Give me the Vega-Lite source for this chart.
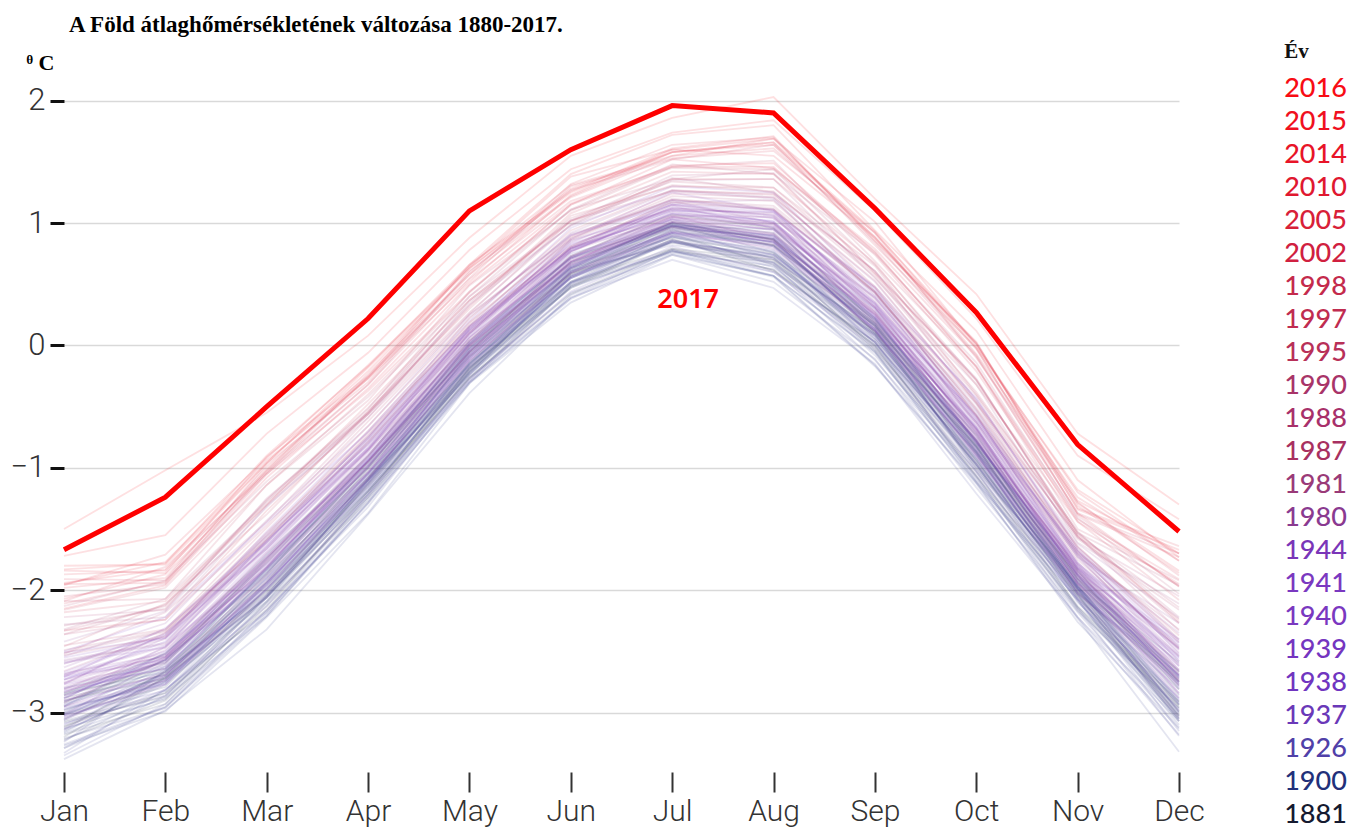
{
"$schema": "https://vega.github.io/schema/vega-lite/v6.json",
"background": "white",
"padding": {"left": 10, "top": 14, "right": 5, "bottom": 2},
"spacing": 79,
"config": {"view": {"stroke": null}},
"datasets": {
"temps": [
{"year":1880,"Jan":-2.86,"Feb":-2.64,"Mar":-1.93,"Apr":-1.01,"May":-0.09,"Jun":0.58,"Jul":0.94,"Aug":0.82,"Sep":0.18,"Oct":-0.87,"Nov":-1.88,"Dec":-2.78},
{"year":1881,"Jan":-2.88,"Feb":-2.69,"Mar":-1.86,"Apr":-0.99,"May":-0.05,"Jun":0.73,"Jul":1.07,"Aug":0.96,"Sep":0.19,"Oct":-0.73,"Nov":-1.91,"Dec":-2.81},
{"year":1882,"Jan":-2.92,"Feb":-2.57,"Mar":-1.77,"Apr":-0.95,"May":-0.01,"Jun":0.67,"Jul":0.97,"Aug":0.82,"Sep":0.16,"Oct":-0.86,"Nov":-1.94,"Dec":-2.74},
{"year":1883,"Jan":-2.90,"Feb":-2.72,"Mar":-1.88,"Apr":-1.08,"May":-0.06,"Jun":0.59,"Jul":0.97,"Aug":0.87,"Sep":0.11,"Oct":-0.82,"Nov":-2.02,"Dec":-2.75},
{"year":1884,"Jan":-3.20,"Feb":-2.71,"Mar":-2.06,"Apr":-1.13,"May":-0.20,"Jun":0.59,"Jul":0.84,"Aug":0.70,"Sep":0.12,"Oct":-1.00,"Nov":-2.00,"Dec":-3.03},
{"year":1885,"Jan":-3.12,"Feb":-2.72,"Mar":-2.02,"Apr":-1.19,"May":-0.27,"Jun":0.48,"Jul":0.87,"Aug":0.61,"Sep":0.03,"Oct":-0.94,"Nov":-2.05,"Dec":-3.05},
{"year":1886,"Jan":-3.22,"Feb":-2.90,"Mar":-2.13,"Apr":-1.24,"May":-0.19,"Jun":0.52,"Jul":0.79,"Aug":0.70,"Sep":-0.01,"Oct":-1.03,"Nov":-2.13,"Dec":-2.91},
{"year":1887,"Jan":-3.11,"Feb":-2.84,"Mar":-2.16,"Apr":-1.20,"May":-0.26,"Jun":0.42,"Jul":0.79,"Aug":0.62,"Sep":0.00,"Oct":-1.07,"Nov":-2.04,"Dec":-3.03},
{"year":1888,"Jan":-3.01,"Feb":-2.79,"Mar":-1.98,"Apr":-1.09,"May":-0.14,"Jun":0.65,"Jul":1.00,"Aug":0.86,"Sep":0.10,"Oct":-0.83,"Nov":-1.99,"Dec":-2.94},
{"year":1889,"Jan":-2.85,"Feb":-2.52,"Mar":-1.71,"Apr":-0.90,"May":0.04,"Jun":0.71,"Jul":1.00,"Aug":0.87,"Sep":0.21,"Oct":-0.81,"Nov":-1.90,"Dec":-2.67},
{"year":1890,"Jan":-3.08,"Feb":-2.87,"Mar":-2.05,"Apr":-1.22,"May":-0.18,"Jun":0.47,"Jul":0.85,"Aug":0.72,"Sep":-0.03,"Oct":-0.97,"Nov":-2.14,"Dec":-2.94},
{"year":1891,"Jan":-3.14,"Feb":-2.66,"Mar":-2.01,"Apr":-1.08,"May":-0.16,"Jun":0.63,"Jul":0.88,"Aug":0.75,"Sep":0.16,"Oct":-0.95,"Nov":-1.96,"Dec":-2.96},
{"year":1892,"Jan":-3.06,"Feb":-2.67,"Mar":-1.96,"Apr":-1.15,"May":-0.23,"Jun":0.52,"Jul":0.91,"Aug":0.66,"Sep":0.08,"Oct":-0.89,"Nov":-2.01,"Dec":-2.99},
{"year":1893,"Jan":-3.18,"Feb":-2.93,"Mar":-2.10,"Apr":-1.27,"May":-0.21,"Jun":0.49,"Jul":0.77,"Aug":0.68,"Sep":-0.04,"Oct":-1.06,"Nov":-2.16,"Dec":-2.96},
{"year":1894,"Jan":-2.98,"Feb":-2.74,"Mar":-2.04,"Apr":-1.11,"May":-0.17,"Jun":0.50,"Jul":0.86,"Aug":0.72,"Sep":0.09,"Oct":-0.97,"Nov":-1.96,"Dec":-2.91},
{"year":1895,"Jan":-3.07,"Feb":-2.84,"Mar":-2.04,"Apr":-1.14,"May":-0.18,"Jun":0.61,"Jul":0.96,"Aug":0.81,"Sep":0.05,"Oct":-0.88,"Nov":-2.03,"Dec":-3.00},
{"year":1896,"Jan":-2.95,"Feb":-2.60,"Mar":-1.74,"Apr":-0.97,"May":0.01,"Jun":0.68,"Jul":0.98,"Aug":0.84,"Sep":0.18,"Oct":-0.83,"Nov":-1.91,"Dec":-2.71},
{"year":1897,"Jan":-2.84,"Feb":-2.67,"Mar":-1.82,"Apr":-1.03,"May":-0.02,"Jun":0.63,"Jul":1.01,"Aug":0.92,"Sep":0.15,"Oct":-0.77,"Nov":-1.98,"Dec":-2.69},
{"year":1898,"Jan":-3.16,"Feb":-2.75,"Mar":-2.09,"Apr":-1.10,"May":-0.22,"Jun":0.56,"Jul":0.86,"Aug":0.68,"Sep":0.09,"Oct":-0.98,"Nov":-2.03,"Dec":-3.07},
{"year":1899,"Jan":-2.94,"Feb":-2.57,"Mar":-1.85,"Apr":-1.05,"May":-0.15,"Jun":0.60,"Jul":0.99,"Aug":0.76,"Sep":0.17,"Oct":-0.79,"Nov":-1.93,"Dec":-2.86},
{"year":1900,"Jan":-2.91,"Feb":-2.65,"Mar":-1.84,"Apr":-1.00,"May":0.02,"Jun":0.72,"Jul":0.98,"Aug":0.95,"Sep":0.22,"Oct":-0.78,"Nov":-1.93,"Dec":-2.59},
{"year":1901,"Jan":-2.80,"Feb":-2.59,"Mar":-1.87,"Apr":-0.96,"May":-0.05,"Jun":0.62,"Jul":0.98,"Aug":0.87,"Sep":0.22,"Oct":-0.82,"Nov":-1.84,"Dec":-2.72},
{"year":1902,"Jan":-3.13,"Feb":-2.89,"Mar":-2.09,"Apr":-1.19,"May":-0.22,"Jun":0.57,"Jul":0.92,"Aug":0.76,"Sep":0.01,"Oct":-0.93,"Nov":-2.07,"Dec":-3.07},
{"year":1903,"Jan":-3.23,"Feb":-2.82,"Mar":-2.06,"Apr":-1.19,"May":-0.22,"Jun":0.47,"Jul":0.78,"Aug":0.57,"Sep":-0.06,"Oct":-1.11,"Nov":-2.14,"Dec":-3.05},
{"year":1904,"Jan":-3.27,"Feb":-2.99,"Mar":-2.22,"Apr":-1.37,"May":-0.31,"Jun":0.35,"Jul":0.74,"Aug":0.57,"Sep":-0.16,"Oct":-1.12,"Nov":-2.26,"Dec":-3.13},
{"year":1905,"Jan":-3.05,"Feb":-2.68,"Mar":-2.00,"Apr":-1.16,"May":-0.15,"Jun":0.57,"Jul":0.89,"Aug":0.74,"Sep":0.10,"Oct":-0.93,"Nov":-1.98,"Dec":-2.99},
{"year":1906,"Jan":-3.00,"Feb":-2.62,"Mar":-1.91,"Apr":-1.10,"May":-0.19,"Jun":0.56,"Jul":0.95,"Aug":0.71,"Sep":0.12,"Oct":-0.84,"Nov":-1.97,"Dec":-2.92},
{"year":1907,"Jan":-3.29,"Feb":-2.95,"Mar":-2.19,"Apr":-1.29,"May":-0.24,"Jun":0.48,"Jul":0.76,"Aug":0.65,"Sep":-0.05,"Oct":-1.08,"Nov":-2.17,"Dec":-2.97},
{"year":1908,"Jan":-3.17,"Feb":-2.88,"Mar":-2.21,"Apr":-1.25,"May":-0.30,"Jun":0.38,"Jul":0.75,"Aug":0.57,"Sep":-0.05,"Oct":-1.12,"Nov":-2.08,"Dec":-3.10},
{"year":1909,"Jan":-3.38,"Feb":-2.98,"Mar":-2.32,"Apr":-1.38,"May":-0.39,"Jun":0.41,"Jul":0.77,"Aug":0.56,"Sep":-0.17,"Oct":-1.13,"Nov":-2.23,"Dec":-3.32},
{"year":1910,"Jan":-3.29,"Feb":-2.86,"Mar":-2.11,"Apr":-1.24,"May":-0.26,"Jun":0.43,"Jul":0.74,"Aug":0.52,"Sep":-0.11,"Oct":-1.16,"Nov":-2.18,"Dec":-3.12},
{"year":1911,"Jan":-3.21,"Feb":-2.96,"Mar":-2.16,"Apr":-1.32,"May":-0.27,"Jun":0.39,"Jul":0.78,"Aug":0.62,"Sep":-0.12,"Oct":-1.07,"Nov":-2.22,"Dec":-3.07},
{"year":1912,"Jan":-3.33,"Feb":-2.81,"Mar":-2.18,"Apr":-1.22,"May":-0.29,"Jun":0.51,"Jul":0.77,"Aug":0.60,"Sep":0.03,"Oct":-1.10,"Nov":-2.08,"Dec":-3.15},
{"year":1913,"Jan":-3.15,"Feb":-2.77,"Mar":-2.05,"Apr":-1.17,"May":-0.24,"Jun":0.51,"Jul":0.85,"Aug":0.64,"Sep":0.00,"Oct":-0.97,"Nov":-2.09,"Dec":-3.02},
{"year":1914,"Jan":-2.98,"Feb":-2.70,"Mar":-1.90,"Apr":-1.05,"May":-0.03,"Jun":0.68,"Jul":0.95,"Aug":0.90,"Sep":0.17,"Oct":-0.83,"Nov":-1.97,"Dec":-2.66},
{"year":1915,"Jan":-2.83,"Feb":-2.63,"Mar":-1.83,"Apr":-0.99,"May":-0.03,"Jun":0.64,"Jul":1.00,"Aug":0.89,"Sep":0.20,"Oct":-0.79,"Nov":-1.87,"Dec":-2.75},
{"year":1916,"Jan":-3.26,"Feb":-2.96,"Mar":-2.21,"Apr":-1.28,"May":-0.31,"Jun":0.49,"Jul":0.85,"Aug":0.66,"Sep":-0.08,"Oct":-1.03,"Nov":-2.15,"Dec":-3.19},
{"year":1917,"Jan":-3.35,"Feb":-2.93,"Mar":-2.17,"Apr":-1.29,"May":-0.30,"Jun":0.39,"Jul":0.70,"Aug":0.47,"Sep":-0.15,"Oct":-1.21,"Nov":-2.22,"Dec":-3.18},
{"year":1918,"Jan":-3.02,"Feb":-2.82,"Mar":-1.99,"Apr":-1.18,"May":-0.14,"Jun":0.51,"Jul":0.89,"Aug":0.77,"Sep":0.02,"Oct":-0.92,"Nov":-2.10,"Dec":-2.88},
{"year":1919,"Jan":-3.24,"Feb":-2.66,"Mar":-2.03,"Apr":-1.10,"May":-0.24,"Jun":0.61,"Jul":0.82,"Aug":0.73,"Sep":0.14,"Oct":-1.02,"Nov":-1.97,"Dec":-3.00},
{"year":1920,"Jan":-3.02,"Feb":-2.70,"Mar":-1.99,"Apr":-1.12,"May":-0.21,"Jun":0.55,"Jul":0.89,"Aug":0.68,"Sep":0.05,"Oct":-0.91,"Nov":-1.99,"Dec":-3.02},
{"year":1921,"Jan":-3.04,"Feb":-2.75,"Mar":-1.96,"Apr":-1.10,"May":-0.07,"Jun":0.64,"Jul":0.91,"Aug":0.85,"Sep":0.13,"Oct":-0.88,"Nov":-2.01,"Dec":-2.72},
{"year":1922,"Jan":-3.01,"Feb":-2.72,"Mar":-2.06,"Apr":-1.13,"May":-0.15,"Jun":0.52,"Jul":0.84,"Aug":0.74,"Sep":0.07,"Oct":-0.99,"Nov":-1.99,"Dec":-2.93},
{"year":1923,"Jan":-3.09,"Feb":-2.86,"Mar":-2.06,"Apr":-1.21,"May":-0.19,"Jun":0.55,"Jul":0.90,"Aug":0.78,"Sep":0.03,"Oct":-0.95,"Nov":-2.04,"Dec":-3.04},
{"year":1924,"Jan":-3.10,"Feb":-2.73,"Mar":-1.94,"Apr":-1.10,"May":-0.13,"Jun":0.55,"Jul":0.85,"Aug":0.67,"Sep":0.03,"Oct":-1.01,"Nov":-2.06,"Dec":-2.93},
{"year":1925,"Jan":-2.96,"Feb":-2.77,"Mar":-1.94,"Apr":-1.13,"May":-0.10,"Jun":0.55,"Jul":0.93,"Aug":0.82,"Sep":0.06,"Oct":-0.87,"Nov":-2.07,"Dec":-2.81},
{"year":1926,"Jan":-2.95,"Feb":-2.51,"Mar":-1.83,"Apr":-0.93,"May":-0.03,"Jun":0.75,"Jul":0.99,"Aug":0.90,"Sep":0.30,"Oct":-0.80,"Nov":-1.84,"Dec":-2.77},
{"year":1927,"Jan":-3.03,"Feb":-2.65,"Mar":-1.94,"Apr":-1.08,"May":-0.16,"Jun":0.59,"Jul":0.92,"Aug":0.74,"Sep":0.09,"Oct":-0.87,"Nov":-1.99,"Dec":-2.90},
{"year":1928,"Jan":-3.00,"Feb":-2.71,"Mar":-1.93,"Apr":-1.07,"May":-0.09,"Jun":0.60,"Jul":0.93,"Aug":0.81,"Sep":0.16,"Oct":-0.86,"Nov":-1.98,"Dec":-2.76},
{"year":1929,"Jan":-3.14,"Feb":-2.81,"Mar":-2.13,"Apr":-1.22,"May":-0.28,"Jun":0.44,"Jul":0.81,"Aug":0.60,"Sep":-0.02,"Oct":-1.04,"Nov":-2.07,"Dec":-3.05},
{"year":1930,"Jan":-2.97,"Feb":-2.76,"Mar":-1.95,"Apr":-1.06,"May":-0.11,"Jun":0.63,"Jul":0.98,"Aug":0.84,"Sep":0.13,"Oct":-0.86,"Nov":-1.96,"Dec":-2.89},
{"year":1931,"Jan":-2.88,"Feb":-2.54,"Mar":-1.74,"Apr":-0.92,"May":0.01,"Jun":0.72,"Jul":1.03,"Aug":0.89,"Sep":0.23,"Oct":-0.78,"Nov":-1.87,"Dec":-2.70},
{"year":1932,"Jan":-2.93,"Feb":-2.69,"Mar":-1.90,"Apr":-1.05,"May":-0.08,"Jun":0.61,"Jul":0.94,"Aug":0.85,"Sep":0.13,"Oct":-0.84,"Nov":-1.99,"Dec":-2.79},
{"year":1933,"Jan":-3.13,"Feb":-2.74,"Mar":-2.04,"Apr":-1.15,"May":-0.17,"Jun":0.57,"Jul":0.86,"Aug":0.71,"Sep":0.08,"Oct":-0.97,"Nov":-2.02,"Dec":-2.98},
{"year":1934,"Jan":-2.88,"Feb":-2.52,"Mar":-1.79,"Apr":-1.00,"May":-0.11,"Jun":0.64,"Jul":1.03,"Aug":0.81,"Sep":0.21,"Oct":-0.74,"Nov":-1.89,"Dec":-2.80},
{"year":1935,"Jan":-3.06,"Feb":-2.73,"Mar":-1.98,"Apr":-1.12,"May":-0.05,"Jun":0.66,"Jul":0.92,"Aug":0.87,"Sep":0.11,"Oct":-0.90,"Nov":-2.03,"Dec":-2.70},
{"year":1936,"Jan":-2.86,"Feb":-2.57,"Mar":-1.86,"Apr":-0.94,"May":-0.07,"Jun":0.65,"Jul":0.97,"Aug":0.88,"Sep":0.23,"Oct":-0.80,"Nov":-1.82,"Dec":-2.70},
{"year":1937,"Jan":-2.82,"Feb":-2.64,"Mar":-1.81,"Apr":-0.94,"May":-0.01,"Jun":0.77,"Jul":1.11,"Aug":1.01,"Sep":0.23,"Oct":-0.68,"Nov":-1.87,"Dec":-2.75},
{"year":1938,"Jan":-2.73,"Feb":-2.42,"Mar":-1.60,"Apr":-0.81,"May":0.12,"Jun":0.79,"Jul":1.08,"Aug":0.97,"Sep":0.30,"Oct":-0.71,"Nov":-1.82,"Dec":-2.55},
{"year":1939,"Jan":-2.71,"Feb":-2.57,"Mar":-1.71,"Apr":-0.93,"May":0.07,"Jun":0.71,"Jul":1.08,"Aug":1.02,"Sep":0.24,"Oct":-0.67,"Nov":-1.90,"Dec":-2.56},
{"year":1940,"Jan":-2.71,"Feb":-2.31,"Mar":-1.61,"Apr":-0.74,"May":0.13,"Jun":0.90,"Jul":1.15,"Aug":1.09,"Sep":0.47,"Oct":-0.60,"Nov":-1.68,"Dec":-2.52},
{"year":1941,"Jan":-2.50,"Feb":-2.22,"Mar":-1.45,"Apr":-0.71,"May":0.15,"Jun":0.87,"Jul":1.25,"Aug":1.10,"Sep":0.48,"Oct":-0.44,"Nov":-1.65,"Dec":-2.41},
{"year":1942,"Jan":-2.73,"Feb":-2.50,"Mar":-1.67,"Apr":-0.86,"May":0.14,"Jun":0.83,"Jul":1.10,"Aug":1.09,"Sep":0.35,"Oct":-0.63,"Nov":-1.81,"Dec":-2.40},
{"year":1943,"Jan":-2.55,"Feb":-2.39,"Mar":-1.64,"Apr":-0.77,"May":0.12,"Jun":0.77,"Jul":1.13,"Aug":1.06,"Sep":0.40,"Oct":-0.62,"Nov":-1.68,"Dec":-2.46},
{"year":1944,"Jan":-2.51,"Feb":-2.39,"Mar":-1.52,"Apr":-0.70,"May":0.20,"Jun":0.96,"Jul":1.30,"Aug":1.25,"Sep":0.45,"Oct":-0.43,"Nov":-1.67,"Dec":-2.43},
{"year":1945,"Jan":-2.67,"Feb":-2.37,"Mar":-1.54,"Apr":-0.76,"May":0.16,"Jun":0.82,"Jul":1.12,"Aug":1.01,"Sep":0.34,"Oct":-0.66,"Nov":-1.78,"Dec":-2.48},
{"year":1946,"Jan":-2.77,"Feb":-2.62,"Mar":-1.76,"Apr":-0.98,"May":0.03,"Jun":0.67,"Jul":1.04,"Aug":0.97,"Sep":0.20,"Oct":-0.72,"Nov":-1.94,"Dec":-2.62},
{"year":1947,"Jan":-2.89,"Feb":-2.46,"Mar":-1.78,"Apr":-0.88,"May":0.01,"Jun":0.79,"Jul":1.03,"Aug":0.95,"Sep":0.34,"Oct":-0.75,"Nov":-1.80,"Dec":-2.71},
{"year":1948,"Jan":-2.91,"Feb":-2.55,"Mar":-1.81,"Apr":-0.98,"May":-0.09,"Jun":0.66,"Jul":1.00,"Aug":0.84,"Sep":0.18,"Oct":-0.77,"Nov":-1.91,"Dec":-2.78},
{"year":1949,"Jan":-2.95,"Feb":-2.67,"Mar":-1.87,"Apr":-1.03,"May":-0.05,"Jun":0.69,"Jul":0.97,"Aug":0.88,"Sep":0.19,"Oct":-0.81,"Nov":-1.95,"Dec":-2.69},
{"year":1950,"Jan":-2.90,"Feb":-2.69,"Mar":-1.96,"Apr":-1.04,"May":-0.12,"Jun":0.56,"Jul":0.92,"Aug":0.80,"Sep":0.14,"Oct":-0.89,"Nov":-1.92,"Dec":-2.84},
{"year":1951,"Jan":-2.80,"Feb":-2.64,"Mar":-1.82,"Apr":-0.95,"May":-0.02,"Jun":0.71,"Jul":1.05,"Aug":0.94,"Sep":0.26,"Oct":-0.70,"Nov":-1.88,"Dec":-2.75},
{"year":1952,"Jan":-2.69,"Feb":-2.45,"Mar":-1.64,"Apr":-0.84,"May":0.09,"Jun":0.77,"Jul":1.10,"Aug":0.99,"Sep":0.32,"Oct":-0.68,"Nov":-1.79,"Dec":-2.58},
{"year":1953,"Jan":-2.59,"Feb":-2.47,"Mar":-1.59,"Apr":-0.84,"May":0.15,"Jun":0.78,"Jul":1.16,"Aug":1.11,"Sep":0.33,"Oct":-0.57,"Nov":-1.82,"Dec":-2.43},
{"year":1954,"Jan":-3.02,"Feb":-2.56,"Mar":-1.89,"Apr":-0.98,"May":-0.08,"Jun":0.71,"Jul":0.96,"Aug":0.85,"Sep":0.25,"Oct":-0.85,"Nov":-1.88,"Dec":-2.84},
{"year":1955,"Jan":-2.86,"Feb":-2.58,"Mar":-1.83,"Apr":-1.04,"May":-0.04,"Jun":0.63,"Jul":1.01,"Aug":0.86,"Sep":0.16,"Oct":-0.78,"Nov":-1.94,"Dec":-2.73},
{"year":1956,"Jan":-3.03,"Feb":-2.77,"Mar":-1.99,"Apr":-1.09,"May":-0.12,"Jun":0.59,"Jul":0.90,"Aug":0.83,"Sep":0.12,"Oct":-0.89,"Nov":-2.02,"Dec":-2.77},
{"year":1957,"Jan":-2.60,"Feb":-2.36,"Mar":-1.60,"Apr":-0.80,"May":0.13,"Jun":0.80,"Jul":1.15,"Aug":1.04,"Sep":0.39,"Oct":-0.58,"Nov":-1.71,"Dec":-2.48},
{"year":1958,"Jan":-2.70,"Feb":-2.54,"Mar":-1.69,"Apr":-0.85,"May":0.07,"Jun":0.84,"Jul":1.19,"Aug":1.10,"Sep":0.32,"Oct":-0.58,"Nov":-1.79,"Dec":-2.62},
{"year":1959,"Jan":-2.76,"Feb":-2.39,"Mar":-1.66,"Apr":-0.85,"May":0.10,"Jun":0.80,"Jul":1.07,"Aug":1.00,"Sep":0.31,"Oct":-0.67,"Nov":-1.83,"Dec":-2.53},
{"year":1960,"Jan":-2.75,"Feb":-2.53,"Mar":-1.73,"Apr":-0.90,"May":0.04,"Jun":0.73,"Jul":1.05,"Aug":0.99,"Sep":0.27,"Oct":-0.71,"Nov":-1.86,"Dec":-2.60},
{"year":1961,"Jan":-2.77,"Feb":-2.35,"Mar":-1.66,"Apr":-0.79,"May":0.09,"Jun":0.86,"Jul":1.11,"Aug":1.04,"Sep":0.43,"Oct":-0.65,"Nov":-1.72,"Dec":-2.58},
{"year":1962,"Jan":-2.69,"Feb":-2.37,"Mar":-1.62,"Apr":-0.86,"May":0.02,"Jun":0.76,"Jul":1.14,"Aug":0.96,"Sep":0.35,"Oct":-0.59,"Nov":-1.77,"Dec":-2.61},
{"year":1963,"Jan":-2.70,"Feb":-2.46,"Mar":-1.65,"Apr":-0.83,"May":0.10,"Jun":0.85,"Jul":1.12,"Aug":1.07,"Sep":0.36,"Oct":-0.61,"Nov":-1.78,"Dec":-2.45},
{"year":1964,"Jan":-3.05,"Feb":-2.70,"Mar":-1.94,"Apr":-1.09,"May":-0.13,"Jun":0.60,"Jul":0.93,"Aug":0.79,"Sep":0.12,"Oct":-0.91,"Nov":-1.94,"Dec":-2.85},
{"year":1965,"Jan":-2.95,"Feb":-2.74,"Mar":-1.92,"Apr":-1.04,"May":-0.10,"Jun":0.69,"Jul":1.04,"Aug":0.91,"Sep":0.14,"Oct":-0.78,"Nov":-1.95,"Dec":-2.88},
{"year":1966,"Jan":-2.83,"Feb":-2.55,"Mar":-1.76,"Apr":-0.94,"May":0.00,"Jun":0.69,"Jul":1.01,"Aug":0.90,"Sep":0.25,"Oct":-0.76,"Nov":-1.86,"Dec":-2.65},
{"year":1967,"Jan":-2.68,"Feb":-2.52,"Mar":-1.69,"Apr":-0.95,"May":0.06,"Jun":0.72,"Jul":1.09,"Aug":1.00,"Sep":0.25,"Oct":-0.69,"Nov":-1.88,"Dec":-2.54},
{"year":1968,"Jan":-2.92,"Feb":-2.56,"Mar":-1.81,"Apr":-0.95,"May":-0.05,"Jun":0.73,"Jul":0.98,"Aug":0.91,"Sep":0.28,"Oct":-0.79,"Nov":-1.85,"Dec":-2.74},
{"year":1969,"Jan":-2.63,"Feb":-2.32,"Mar":-1.56,"Apr":-0.81,"May":0.06,"Jun":0.79,"Jul":1.18,"Aug":1.00,"Sep":0.39,"Oct":-0.54,"Nov":-1.73,"Dec":-2.54},
{"year":1970,"Jan":-2.79,"Feb":-2.55,"Mar":-1.73,"Apr":-0.91,"May":0.10,"Jun":0.80,"Jul":1.06,"Aug":1.05,"Sep":0.31,"Oct":-0.68,"Nov":-1.85,"Dec":-2.47},
{"year":1971,"Jan":-2.73,"Feb":-2.54,"Mar":-1.81,"Apr":-0.91,"May":0.00,"Jun":0.66,"Jul":1.01,"Aug":0.92,"Sep":0.27,"Oct":-0.77,"Nov":-1.80,"Dec":-2.65},
{"year":1972,"Jan":-2.76,"Feb":-2.59,"Mar":-1.75,"Apr":-0.90,"May":0.03,"Jun":0.81,"Jul":1.15,"Aug":1.06,"Sep":0.28,"Oct":-0.63,"Nov":-1.83,"Dec":-2.69},
{"year":1973,"Jan":-2.54,"Feb":-2.27,"Mar":-1.43,"Apr":-0.66,"May":0.25,"Jun":0.90,"Jul":1.19,"Aug":1.11,"Sep":0.43,"Oct":-0.56,"Nov":-1.70,"Dec":-2.35},
{"year":1974,"Jan":-2.81,"Feb":-2.60,"Mar":-1.78,"Apr":-1.00,"May":0.00,"Jun":0.68,"Jul":1.02,"Aug":0.95,"Sep":0.22,"Oct":-0.74,"Nov":-1.91,"Dec":-2.66},
{"year":1975,"Jan":-2.84,"Feb":-2.49,"Mar":-1.75,"Apr":-0.86,"May":0.04,"Jun":0.77,"Jul":1.05,"Aug":0.98,"Sep":0.31,"Oct":-0.72,"Nov":-1.82,"Dec":-2.67},
{"year":1976,"Jan":-2.81,"Feb":-2.47,"Mar":-1.73,"Apr":-0.95,"May":-0.06,"Jun":0.68,"Jul":1.06,"Aug":0.86,"Sep":0.26,"Oct":-0.69,"Nov":-1.84,"Dec":-2.73},
{"year":1977,"Jan":-2.60,"Feb":-2.40,"Mar":-1.56,"Apr":-0.76,"May":0.23,"Jun":0.91,"Jul":1.17,"Aug":1.19,"Sep":0.44,"Oct":-0.53,"Nov":-1.73,"Dec":-2.27},
{"year":1978,"Jan":-2.58,"Feb":-2.44,"Mar":-1.61,"Apr":-0.78,"May":0.14,"Jun":0.79,"Jul":1.12,"Aug":1.08,"Sep":0.38,"Oct":-0.63,"Nov":-1.70,"Dec":-2.51},
{"year":1979,"Jan":-2.57,"Feb":-2.43,"Mar":-1.58,"Apr":-0.75,"May":0.16,"Jun":0.92,"Jul":1.26,"Aug":1.20,"Sep":0.41,"Oct":-0.48,"Nov":-1.71,"Dec":-2.49},
{"year":1980,"Jan":-2.42,"Feb":-2.17,"Mar":-1.32,"Apr":-0.56,"May":0.33,"Jun":0.98,"Jul":1.27,"Aug":1.21,"Sep":0.52,"Oct":-0.46,"Nov":-1.62,"Dec":-2.23},
{"year":1981,"Jan":-2.28,"Feb":-2.22,"Mar":-1.31,"Apr":-0.59,"May":0.36,"Jun":0.98,"Jul":1.35,"Aug":1.36,"Sep":0.55,"Oct":-0.32,"Nov":-1.61,"Dec":-2.11},
{"year":1982,"Jan":-2.66,"Feb":-2.35,"Mar":-1.58,"Apr":-0.79,"May":0.11,"Jun":0.86,"Jul":1.20,"Aug":1.12,"Sep":0.44,"Oct":-0.57,"Nov":-1.75,"Dec":-2.47},
{"year":1983,"Jan":-2.32,"Feb":-2.07,"Mar":-1.28,"Apr":-0.56,"May":0.27,"Jun":0.99,"Jul":1.37,"Aug":1.25,"Sep":0.61,"Oct":-0.29,"Nov":-1.53,"Dec":-2.22},
{"year":1984,"Jan":-2.51,"Feb":-2.34,"Mar":-1.53,"Apr":-0.74,"May":0.18,"Jun":0.88,"Jul":1.19,"Aug":1.14,"Sep":0.47,"Oct":-0.52,"Nov":-1.69,"Dec":-2.32},
{"year":1985,"Jan":-2.49,"Feb":-2.33,"Mar":-1.59,"Apr":-0.72,"May":0.16,"Jun":0.81,"Jul":1.17,"Aug":1.11,"Sep":0.44,"Oct":-0.57,"Nov":-1.64,"Dec":-2.40},
{"year":1986,"Jan":-2.53,"Feb":-2.38,"Mar":-1.55,"Apr":-0.70,"May":0.19,"Jun":0.87,"Jul":1.22,"Aug":1.18,"Sep":0.43,"Oct":-0.51,"Nov":-1.67,"Dec":-2.42},
{"year":1987,"Jan":-2.36,"Feb":-2.12,"Mar":-1.26,"Apr":-0.51,"May":0.37,"Jun":1.02,"Jul":1.31,"Aug":1.26,"Sep":0.56,"Oct":-0.41,"Nov":-1.58,"Dec":-2.16},
{"year":1988,"Jan":-2.22,"Feb":-2.16,"Mar":-1.25,"Apr":-0.55,"May":0.40,"Jun":1.02,"Jul":1.39,"Aug":1.41,"Sep":0.60,"Oct":-0.27,"Nov":-1.57,"Dec":-2.05},
{"year":1989,"Jan":-2.52,"Feb":-2.18,"Mar":-1.44,"Apr":-0.59,"May":0.26,"Jun":1.02,"Jul":1.26,"Aug":1.24,"Sep":0.61,"Oct":-0.45,"Nov":-1.56,"Dec":-2.33},
{"year":1990,"Jan":-2.13,"Feb":-1.92,"Mar":-1.11,"Apr":-0.42,"May":0.40,"Jun":1.11,"Jul":1.48,"Aug":1.40,"Sep":0.75,"Oct":-0.14,"Nov":-1.41,"Dec":-2.03},
{"year":1991,"Jan":-2.29,"Feb":-2.15,"Mar":-1.27,"Apr":-0.52,"May":0.44,"Jun":1.11,"Jul":1.36,"Aug":1.44,"Sep":0.66,"Oct":-0.28,"Nov":-1.53,"Dec":-1.96},
{"year":1992,"Jan":-2.36,"Feb":-2.24,"Mar":-1.47,"Apr":-0.62,"May":0.25,"Jun":0.89,"Jul":1.24,"Aug":1.21,"Sep":0.53,"Oct":-0.47,"Nov":-1.56,"Dec":-2.27},
{"year":1993,"Jan":-2.45,"Feb":-2.32,"Mar":-1.49,"Apr":-0.66,"May":0.22,"Jun":0.94,"Jul":1.27,"Aug":1.23,"Sep":0.48,"Oct":-0.47,"Nov":-1.65,"Dec":-2.37},
{"year":1994,"Jan":-2.33,"Feb":-2.13,"Mar":-1.30,"Apr":-0.54,"May":0.34,"Jun":1.04,"Jul":1.34,"Aug":1.29,"Sep":0.58,"Oct":-0.38,"Nov":-1.54,"Dec":-2.14},
{"year":1995,"Jan":-2.09,"Feb":-2.07,"Mar":-1.14,"Apr":-0.45,"May":0.49,"Jun":1.10,"Jul":1.46,"Aug":1.51,"Sep":0.69,"Oct":-0.17,"Nov":-1.50,"Dec":-1.92},
{"year":1996,"Jan":-2.46,"Feb":-2.11,"Mar":-1.38,"Apr":-0.54,"May":0.30,"Jun":1.06,"Jul":1.30,"Aug":1.29,"Sep":0.65,"Oct":-0.40,"Nov":-1.52,"Dec":-2.26},
{"year":1997,"Jan":-2.16,"Feb":-1.98,"Mar":-1.14,"Apr":-0.40,"May":0.43,"Jun":1.15,"Jul":1.45,"Aug":1.44,"Sep":0.77,"Oct":-0.18,"Nov":-1.39,"Dec":-1.97},
{"year":1998,"Jan":-2.05,"Feb":-1.95,"Mar":-1.05,"Apr":-0.32,"May":0.60,"Jun":1.27,"Jul":1.52,"Aug":1.64,"Sep":0.84,"Oct":-0.08,"Nov":-1.37,"Dec":-1.70},
{"year":1999,"Jan":-2.18,"Feb":-2.09,"Mar":-1.30,"Apr":-0.48,"May":0.37,"Jun":1.01,"Jul":1.36,"Aug":1.36,"Sep":0.67,"Oct":-0.32,"Nov":-1.44,"Dec":-2.08},
{"year":2000,"Jan":-2.33,"Feb":-2.24,"Mar":-1.35,"Apr":-0.56,"May":0.32,"Jun":1.08,"Jul":1.42,"Aug":1.40,"Sep":0.59,"Oct":-0.28,"Nov":-1.55,"Dec":-2.24},
{"year":2001,"Jan":-2.11,"Feb":-1.93,"Mar":-1.03,"Apr":-0.32,"May":0.54,"Jun":1.18,"Jul":1.46,"Aug":1.46,"Sep":0.74,"Oct":-0.21,"Nov":-1.42,"Dec":-1.91},
{"year":2002,"Jan":-1.91,"Feb":-1.92,"Mar":-0.97,"Apr":-0.30,"May":0.61,"Jun":1.22,"Jul":1.58,"Aug":1.66,"Sep":0.82,"Oct":-0.02,"Nov":-1.38,"Dec":-1.73},
{"year":2003,"Jan":-2.09,"Feb":-1.81,"Mar":-1.04,"Apr":-0.25,"May":0.55,"Jun":1.30,"Jul":1.53,"Aug":1.59,"Sep":0.92,"Oct":-0.10,"Nov":-1.28,"Dec":-1.88},
{"year":2004,"Jan":-2.07,"Feb":-1.87,"Mar":-1.05,"Apr":-0.37,"May":0.44,"Jun":1.15,"Jul":1.52,"Aug":1.45,"Sep":0.79,"Oct":-0.09,"Nov":-1.37,"Dec":-1.97},
{"year":2005,"Jan":-1.98,"Feb":-1.90,"Mar":-0.99,"Apr":-0.27,"May":0.65,"Jun":1.31,"Jul":1.55,"Aug":1.69,"Sep":0.88,"Oct":-0.03,"Nov":-1.33,"Dec":-1.64},
{"year":2006,"Jan":-1.87,"Feb":-1.84,"Mar":-1.02,"Apr":-0.23,"May":0.58,"Jun":1.21,"Jul":1.55,"Aug":1.61,"Sep":0.89,"Oct":-0.07,"Nov":-1.24,"Dec":-1.76},
{"year":2007,"Jan":-1.95,"Feb":-1.94,"Mar":-1.01,"Apr":-0.26,"May":0.58,"Jun":1.32,"Jul":1.64,"Aug":1.70,"Sep":0.85,"Oct":0.02,"Nov":-1.31,"Dec":-1.86},
{"year":2008,"Jan":-2.15,"Feb":-1.96,"Mar":-1.08,"Apr":-0.35,"May":0.50,"Jun":1.16,"Jul":1.47,"Aug":1.49,"Sep":0.76,"Oct":-0.17,"Nov":-1.44,"Dec":-1.95},
{"year":2009,"Jan":-1.84,"Feb":-1.86,"Mar":-0.91,"Apr":-0.25,"May":0.66,"Jun":1.26,"Jul":1.61,"Aug":1.71,"Sep":0.86,"Oct":0.03,"Nov":-1.34,"Dec":-1.67},
{"year":2010,"Jan":-1.96,"Feb":-1.71,"Mar":-0.92,"Apr":-0.16,"May":0.64,"Jun":1.38,"Jul":1.60,"Aug":1.69,"Sep":1.01,"Oct":0.00,"Nov":-1.20,"Dec":-1.76},
{"year":2011,"Jan":-1.95,"Feb":-1.77,"Mar":-0.94,"Apr":-0.27,"May":0.52,"Jun":1.23,"Jul":1.60,"Aug":1.55,"Sep":0.88,"Oct":0.01,"Nov":-1.29,"Dec":-1.84},
{"year":2012,"Jan":-1.94,"Feb":-1.83,"Mar":-0.96,"Apr":-0.21,"May":0.63,"Jun":1.28,"Jul":1.58,"Aug":1.64,"Sep":0.92,"Oct":0.02,"Nov":-1.27,"Dec":-1.70},
{"year":2013,"Jan":-1.80,"Feb":-1.79,"Mar":-0.96,"Apr":-0.18,"May":0.63,"Jun":1.25,"Jul":1.58,"Aug":1.66,"Sep":0.93,"Oct":-0.02,"Nov":-1.18,"Dec":-1.70},
{"year":2014,"Jan":-1.83,"Feb":-1.78,"Mar":-0.90,"Apr":-0.17,"May":0.66,"Jun":1.40,"Jul":1.72,"Aug":1.80,"Sep":0.94,"Oct":0.12,"Nov":-1.10,"Dec":-1.73},
{"year":2015,"Jan":-1.72,"Feb":-1.55,"Mar":-0.72,"Apr":-0.06,"May":0.78,"Jun":1.44,"Jul":1.74,"Aug":1.84,"Sep":1.10,"Oct":0.22,"Nov":-0.90,"Dec":-1.42},
{"year":2016,"Jan":-1.50,"Feb":-1.02,"Mar":-0.55,"Apr":0.08,"May":0.88,"Jun":1.55,"Jul":1.86,"Aug":2.03,"Sep":1.20,"Oct":0.42,"Nov":-0.72,"Dec":-1.30},
{"year":2017,"Jan":-1.67,"Feb":-1.24,"Mar":-0.50,"Apr":0.22,"May":1.10,"Jun":1.60,"Jul":1.96,"Aug":1.90,"Sep":1.12,"Oct":0.27,"Nov":-0.81,"Dec":-1.52}
],
"legendYears": [
{"year":2016},{"year":2015},{"year":2014},{"year":2010},{"year":2005},{"year":2002},{"year":1998},{"year":1997},{"year":1995},{"year":1990},{"year":1988},{"year":1987},{"year":1981},{"year":1980},{"year":1944},{"year":1941},{"year":1940},{"year":1939},{"year":1938},{"year":1937},{"year":1926},{"year":1900},{"year":1881}
]
},
"hconcat": [
{
"width": 1115,
"height": 700,
"title": {"text": "A Föld átlaghőmérsékletének változása 1880-2017.", "anchor": "start", "frame": "group", "font": "Liberation Serif", "fontSize": 23, "fontWeight": "bold", "color": "#000000", "offset": 14, "dx": 5},
"layer": [
{
"data": {"name": "temps"},
"transform": [{"filter": "datum.year < 2017"}, {"fold": ["Jan","Feb","Mar","Apr","May","Jun","Jul","Aug","Sep","Oct","Nov","Dec"], "as": ["month", "t"]}],
"mark": {"type": "line", "strokeWidth": 1.8, "opacity": 0.13},
"encoding": {
"x": {"field": "month", "type": "ordinal", "sort": ["Jan","Feb","Mar","Apr","May","Jun","Jul","Aug","Sep","Oct","Nov","Dec"], "scale": {"type": "point", "padding": 0, "domain": ["Jan","Feb","Mar","Apr","May","Jun","Jul","Aug","Sep","Oct","Nov","Dec"]},
 "axis": {"title": null, "domain": false, "grid": false, "offset": 8, "tickSize": 20, "tickWidth": 2, "tickColor": "#333333", "labelAngle": 0, "labelFont": "Roboto", "labelFontWeight": 300, "labelFontSize": 30, "labelColor": "#333333", "labelPadding": 4}},
"y": {"field": "t", "type": "quantitative", "scale": {"domain": [-3.42, 2.3], "nice": false, "zero": false},
 "axis": {"title": "ᶿ C", "titleAngle": 0, "titleX": -38, "titleY": 5, "titleAlign": "left", "titleBaseline": "alphabetic", "titleFont": "Liberation Serif", "titleFontSize": 22, "titleFontWeight": "bold", "titleColor": "#000000", "values": [-3, -2, -1, 0, 1, 2], "format": "d", "domain": false, "grid": true, "gridColor": "#d9d9d9", "gridWidth": 1.5, "tickSize": 14, "tickWidth": 3, "tickColor": "#111111", "labelFont": "Roboto", "labelFontWeight": 300, "labelFontSize": 31, "labelColor": "#333333", "labelPadding": 5}},
"detail": {"field": "year", "type": "nominal"},
"color": {"field": "year", "type": "quantitative", "legend": null, "scale": {"domain": [1881,1900,1926,1937,1938,1939,1940,1941,1944,1980,1981,1987,1988,1990,1995,1997,1998,2002,2005,2010,2014,2015,2016], "range": ["#151a30","#22307a","#5040a8","#6a38b8","#7035c0","#7535c0","#7a38c0","#7a38c0","#7a35b8","#8a3a90","#9a3a78","#a83060","#a8306a","#a83468","#b83058","#c02c50","#c42a4c","#d02040","#d82038","#e01830","#e81428","#f01020","#f80c14"], "interpolate": "rgb", "clamp": true}}
}
},
{
"data": {"name": "temps"},
"transform": [{"filter": "datum.year == 2017"}, {"fold": ["Jan","Feb","Mar","Apr","May","Jun","Jul","Aug","Sep","Oct","Nov","Dec"], "as": ["month", "t"]}],
"mark": {"type": "line", "strokeWidth": 5, "color": "#fe0000"},
"encoding": {
"x": {"field": "month", "type": "ordinal", "sort": ["Jan","Feb","Mar","Apr","May","Jun","Jul","Aug","Sep","Oct","Nov","Dec"]},
"y": {"field": "t", "type": "quantitative"}
}
},
{
"data": {"values": [{"month": "Jul", "t": 0.37, "label": "2017"}]},
"mark": {"type": "text", "font": "Noto Sans", "fontSize": 27, "fontWeight": 600, "color": "#fe0000", "dx": 16},
"encoding": {
"x": {"field": "month", "type": "ordinal", "sort": ["Jan","Feb","Mar","Apr","May","Jun","Jul","Aug","Sep","Oct","Nov","Dec"]},
"y": {"field": "t", "type": "quantitative"},
"text": {"field": "label", "type": "nominal"}
}
}
]
},
{
"width": 61,
"height": 759,
"title": {"text": "Év", "anchor": "start", "font": "Liberation Serif", "fontSize": 21, "fontWeight": "bold", "color": "#111111", "offset": 2},
"data": {"name": "legendYears"},
"mark": {"type": "text", "font": "Lato", "fontSize": 27, "fontWeight": 500, "dy": 8},
"encoding": {
"y": {"field": "year", "type": "ordinal", "sort": "descending", "axis": null, "scale": {"type": "band", "paddingInner": 0, "paddingOuter": 0}},
"text": {"field": "year", "type": "nominal"},
"color": {"field": "year", "type": "quantitative", "legend": null, "scale": {"domain": [1881,1900,1926,1937,1938,1939,1940,1941,1944,1980,1981,1987,1988,1990,1995,1997,1998,2002,2005,2010,2014,2015,2016], "range": ["#151a30","#22307a","#5040a8","#6a38b8","#7035c0","#7535c0","#7a38c0","#7a38c0","#7a35b8","#8a3a90","#9a3a78","#a83060","#a8306a","#a83468","#b83058","#c02c50","#c42a4c","#d02040","#d82038","#e01830","#e81428","#f01020","#f80c14"], "interpolate": "rgb", "clamp": true}}
}
}
]
}
